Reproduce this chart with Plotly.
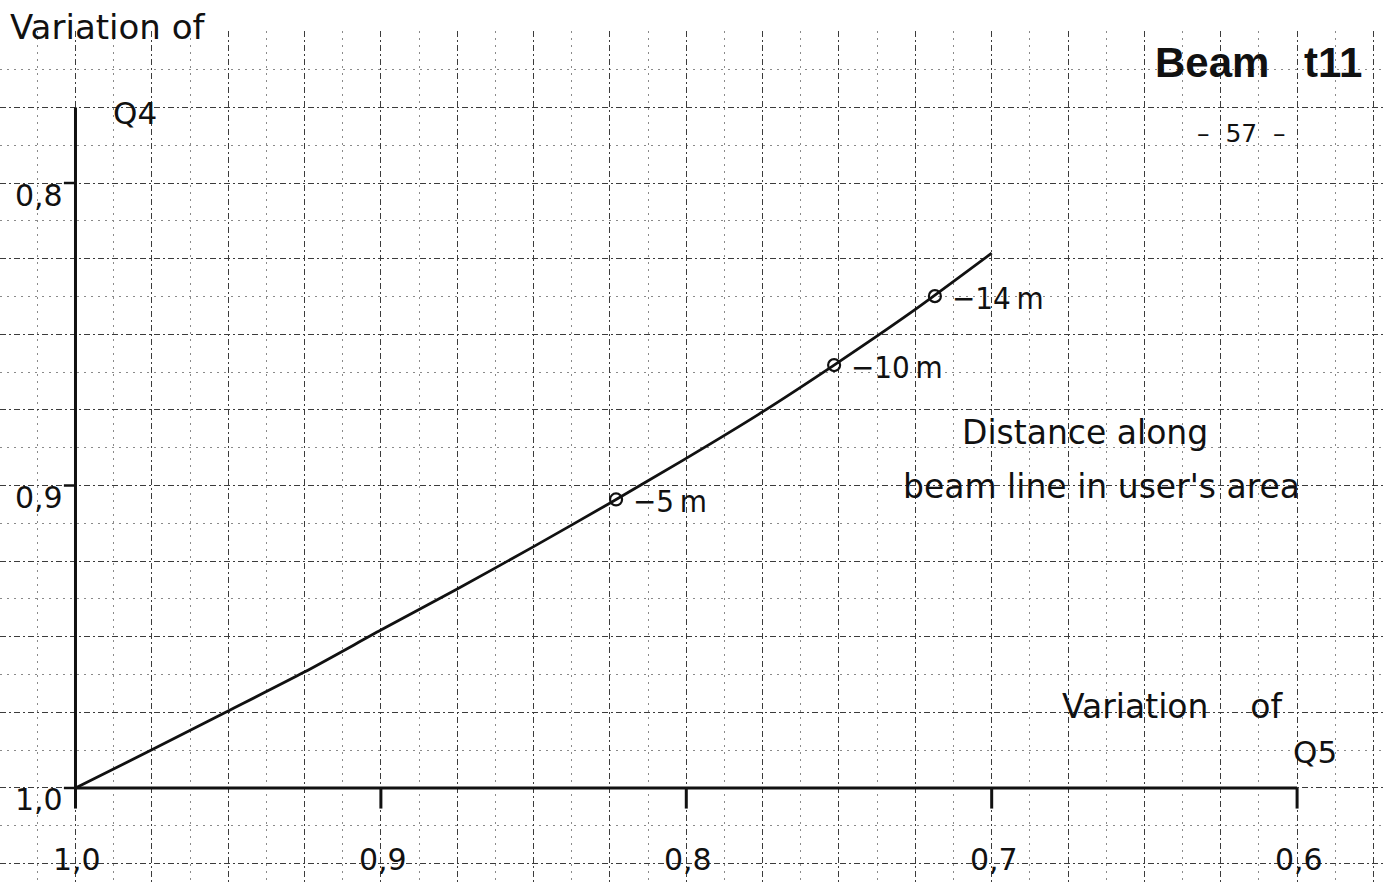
import plotly.graph_objects as go

W, H = 1383, 885

# Relative variation of Q5 (horizontal) against Q4 (vertical)
q5_curve = [1.000, 0.975, 0.9505, 0.9249, 0.900, 0.875, 0.850, 0.8255, 0.801, 0.7762, 0.7516, 0.7257, 0.700]
q4_curve = [1.000, 0.9874, 0.9748, 0.9616, 0.9478, 0.9342, 0.9202, 0.9061, 0.8916, 0.8764, 0.8602, 0.8423, 0.8232]

# Marked distances along the beam line in the user's area
dist_labels = ["−5\u2009m", "−10\u2009m", "−14\u2009m"]
q5_marks = [0.8230, 0.7516, 0.7186]
q4_marks = [0.9046, 0.8602, 0.8374]

# Axis ticks
q5_ticks = [1.0, 0.9, 0.8, 0.7, 0.6]
q5_tick_text = ["1,0", "0,9", "0,8", "0,7", "0,6"]
q4_ticks = [0.8, 0.9, 1.0]
q4_tick_text = ["0,8", "0,9", "1,0"]
q4_axis_top = 0.775

X_RANGE = [1.02472, 0.57187]
Y_RANGE = [1.03207, 0.74975]
Y_DOMAIN_TOP = 0.96497

FONT = "DejaVu Sans"
FONT_NARROW = "DejaVu Sans Condensed, DejaVu Sans"
INK = "#111111"
NB = "\u00a0"


def paper(px, py):
    """Pixel position on the page -> paper coordinates."""
    return px / W, 1 - py / H


fig = go.Figure()

# the curve
fig.add_trace(go.Scatter(
    x=q5_curve, y=q4_curve, mode="lines",
    line=dict(color=INK, width=2.8, shape="spline", smoothing=0.6),
    hoverinfo="skip", showlegend=False,
))

# distance markers
fig.add_trace(go.Scatter(
    x=q5_marks, y=q4_marks, mode="markers",
    marker=dict(symbol="circle-open", size=12, color=INK, line=dict(width=2.2, color=INK)),
    hoverinfo="skip", showlegend=False,
))

shapes = []
x0_axis, x1_axis = max(q5_ticks), min(q5_ticks)
y_base = max(q4_ticks)
# horizontal axis
shapes.append(dict(type="line", xref="x", yref="y", x0=x0_axis, x1=x1_axis,
                   y0=y_base, y1=y_base, line=dict(color=INK, width=3)))
# vertical axis
shapes.append(dict(type="line", xref="x", yref="y", x0=x0_axis, x1=x0_axis,
                   y0=y_base, y1=q4_axis_top, line=dict(color=INK, width=3)))
# ticks on horizontal axis (pointing down)
for t in q5_ticks:
    shapes.append(dict(type="line", xref="x", yref="y", x0=t, x1=t,
                       y0=y_base, y1=y_base + 0.0068, line=dict(color=INK, width=3)))
# ticks on vertical axis (pointing left)
for t in q4_ticks:
    shapes.append(dict(type="line", xref="x", yref="y", x0=x0_axis, x1=x0_axis + 0.0038,
                       y0=t, y1=t, line=dict(color=INK, width=2.5)))

annotations = []
for t, s in zip(q5_ticks, q5_tick_text):
    annotations.append(dict(x=t, y=y_base, xref="x", yref="y", text=s, showarrow=False,
                            xanchor="center", yanchor="middle", xshift=2, yshift=-72,
                            font=dict(family=FONT, size=30, color=INK)))
for t, s in zip(q4_ticks, q4_tick_text):
    annotations.append(dict(x=x0_axis, y=t, xref="x", yref="y", text=s, showarrow=False,
                            xanchor="right", yanchor="middle", xshift=-10, yshift=-12,
                            font=dict(family=FONT, size=30, color=INK)))
for xv, yv, s in zip(q5_marks, q4_marks, dist_labels):
    annotations.append(dict(x=xv, y=yv, xref="x", yref="y", text=s, showarrow=False,
                            xanchor="left", yanchor="middle", xshift=15, yshift=-2,
                            font=dict(family=FONT_NARROW, size=31, color=INK)))


def label(px, py, text, size=33, anchor="center", family=FONT, weight="normal"):
    x, y = paper(px, py)
    annotations.append(dict(x=x, y=y, xref="paper", yref="paper", text=text, showarrow=False,
                            xanchor=anchor, yanchor="middle",
                            font=dict(family=family, size=size, color=INK, weight=weight)))


label(8, 27, "Variation of", size=34, anchor="left")
label(111, 113, "Q4", size=31, anchor="left")
label(1212, 63, "Beam", size=42, family="Liberation Sans", weight="bold")
label(1333, 63, "t11", size=42, family="Liberation Sans", weight="bold")
label(1241, 133, f"–{NB}{NB}57{NB}{NB}–", size=25)
label(1085, 432, "Distance along", size=33)
label(1101, 487, "beam line in user's area", size=33)
label(1060, 706, f"Variation{NB}{NB}{NB}{NB}of", size=33, anchor="left")
label(1291, 752, "Q5", size=31, anchor="left")

grid_major = dict(showgrid=True, gridcolor="#3c3c3c", gridwidth=1, griddash="6px,3px,2px,3px")
minor = dict(dtick=0.0125, tick0=1.0, showgrid=True, gridcolor="#8a8a8a",
             gridwidth=1, griddash="2px,5px", ticks="")

fig.update_layout(
    width=W, height=H,
    margin=dict(l=0, r=0, t=0, b=0),
    paper_bgcolor="white", plot_bgcolor="white",
    xaxis=dict(range=X_RANGE, domain=[0, 1], dtick=0.025, tick0=1.0, showticklabels=False,
               zeroline=False, showline=False, ticks="", minor=minor, **grid_major),
    yaxis=dict(range=Y_RANGE, domain=[0, Y_DOMAIN_TOP], dtick=0.025, tick0=1.0,
               showticklabels=False, zeroline=False, showline=False, ticks="",
               minor=minor, **grid_major),
    shapes=shapes,
    annotations=annotations,
    showlegend=False,
)

fig.write_html("out.html")
